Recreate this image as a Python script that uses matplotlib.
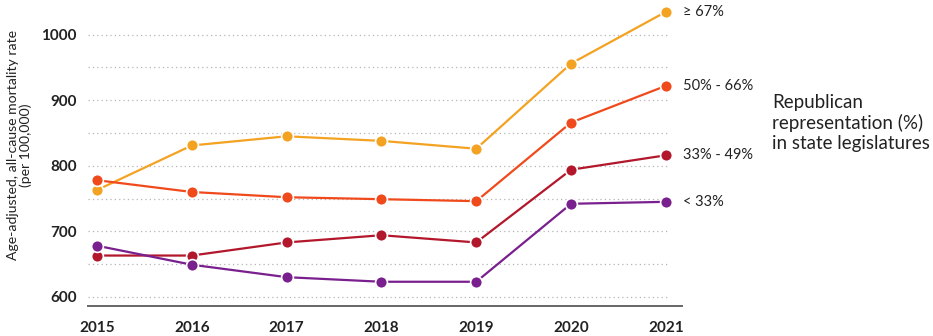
import numpy as np
import matplotlib
matplotlib.use("Agg")
import matplotlib.pyplot as plt

plt.rcParams['font.family'] = ['Lato', 'DejaVu Sans']

years = [2015, 2016, 2017, 2018, 2019, 2020, 2021]
group_labels = ['\u2265 67%', '50% - 66%', '33% - 49%', '< 33%']
rate_67_plus = [763, 831, 845, 838, 826, 956, 1035]
rate_50_66 = [778, 760, 752, 749, 746, 866, 922]
rate_33_49 = [663, 663, 683, 694, 683, 794, 816]
rate_under_33 = [678, 649, 630, 623, 623, 742, 745]
y_ticks = [600, 700, 800, 900, 1000]
grid_levels = [600, 650, 700, 750, 800, 850, 900, 950, 1000]

series = [rate_67_plus, rate_50_66, rate_33_49, rate_under_33]
colors = ['#F4A221', '#F04A1C', '#B3172B', '#7A1F8E']

fig = plt.figure(figsize=(9.33, 3.36), dpi=100)
ax = fig.add_axes([88/933, 30/336, (682-88)/933, (336-30)/336])

x0, x1 = 2014.905, 2021.17
ax.set_xlim(x0, x1)
ax.set_ylim(586, 1053)

# dotted gridlines stop at the last year
ax.hlines(grid_levels, x0, 2021.03, colors='#b5b5b5', linestyles=(0, (1, 2.5)), linewidth=0.9, zorder=1)

for vals, c, lab in zip(series, colors, group_labels):
    ax.plot(years, vals, color=c, linewidth=1.6, marker='o', markersize=8.5,
            markeredgecolor='white', markeredgewidth=1.2, zorder=3)
    ax.annotate(lab, (years[-1], vals[-1]), xytext=(12, 0), textcoords='offset points',
                va='center', ha='left', fontsize=10.5, color='#222222')

for s in ['top', 'right', 'left']:
    ax.spines[s].set_visible(False)
ax.spines['bottom'].set_color('#666666')
ax.spines['bottom'].set_linewidth(1.4)

ax.set_yticks(y_ticks)
ax.set_xticks(years)
ax.tick_params(axis='both', length=0, labelsize=11, colors='#222222')
ax.tick_params(axis='y', pad=8)
ax.tick_params(axis='x', pad=11)
for t in ax.get_xticklabels() + ax.get_yticklabels():
    t.set_fontweight('bold')

fig.text(0.021, 1 - 145/336, 'Age-adjusted, all-cause mortality rate\n(per 100,000)', rotation=90,
         ha='center', va='center', fontsize=10.1, color='#222222', linespacing=1.1)

fig.text(772/933, 1 - 123/336, 'Republican\nrepresentation (%)\nin state legislatures', ha='left', va='center',
         fontsize=13.5, color='#222222', linespacing=1.2)

fig.savefig('out.png', dpi=100)
